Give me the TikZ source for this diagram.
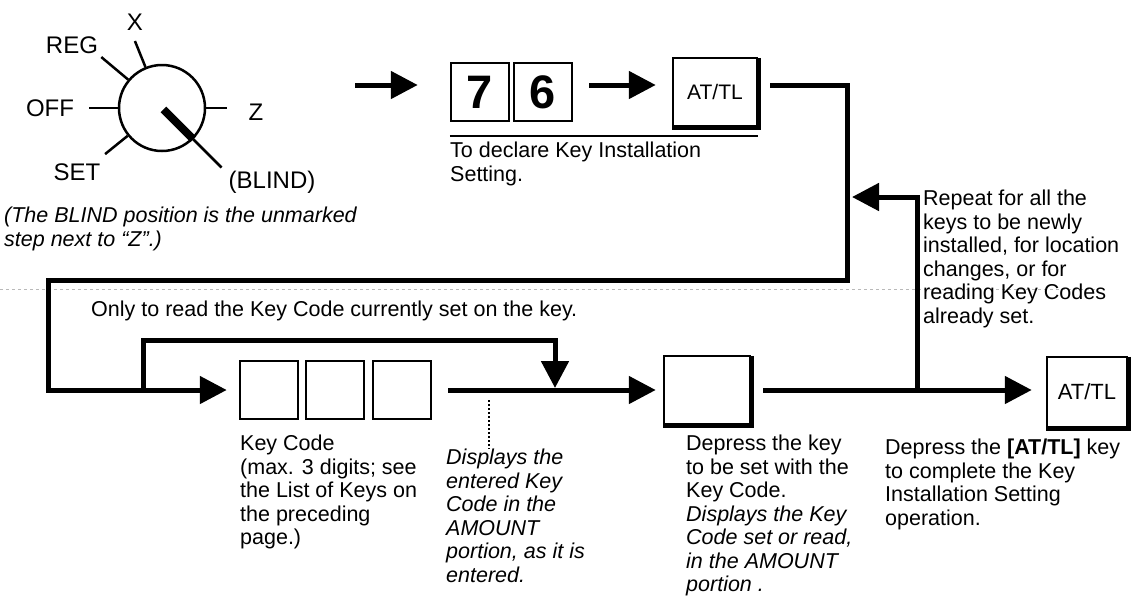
\documentclass[tikz,border=0pt]{standalone}
\usepackage{fontspec}
\setmainfont{Liberation Sans}
\usetikzlibrary{arrows.meta,calc}
\begin{document}
\begin{tikzpicture}[x=1pt,y=-1pt,
  flow/.style={line width=5pt,-{Triangle[length=27pt,width=27pt]}},
  tick/.style={line width=2.5pt},
  keybox/.style={draw,line width=2.5pt,minimum width=58pt,minimum height=58pt,inner sep=0pt},
  shbox/.style={draw,line width=2.5pt,inner sep=0pt},
  shadowline/.style={line width=4pt},
  txt/.style={align=left,anchor=north west,inner sep=0pt,font=\fontsize{21.5}{23.5}\selectfont},
  lbl/.style={inner sep=0pt,font=\fontsize{24}{28}\selectfont},
  artifact/.style={gray!55,dashed,line width=0.6pt}
]
\useasboundingbox (0,0) rectangle (1137,598);

% scan line
\draw[artifact] (0,289) -- (1095,289);

% rotary switch
\node[circle,draw,line width=2.5pt,minimum size=86pt,inner sep=0pt] (sw) at (162,108) {};
\draw[tick] (sw.112) -- ++(112:28pt);
\draw[tick] (sw.140) -- ++(140:35pt);
\draw[tick] (sw.180) -- ++(180:29pt);
\draw[tick] (sw.219) -- ++(219:29pt);
\draw[tick] (sw.0) -- ++(0:21pt);
\draw[tick] (sw.-45) -- ++(-45:40pt);
\draw[line width=8pt] ([shift={(-45:2pt)}]sw.center) -- (sw.-45);
\node[lbl] (lx) at (135,22) {X};
\node[lbl] (lreg) at (72,45) {REG};
\node[lbl] (loff) at (50,108) {OFF};
\node[lbl] (lz) at (256,112) {Z};
\node[lbl] (lset) at (77,172) {SET};
\node[lbl] (lblind) at (272,182) {(BLIND)};
\node[txt,font=\fontsize{21.5}{23.5}\selectfont\itshape] (note) at (4,207)
  {(The BLIND position is the unmarked\\step next to “Z”.)};

% top row
\node[keybox,font=\fontsize{47}{47}\selectfont\bfseries] (k7) at (480,92) {7};
\node[keybox,font=\fontsize{47}{47}\selectfont\bfseries] (k6) at (543,92) {6};
\node[shbox,minimum width=84pt,minimum height=68pt,font=\fontsize{21}{22}\selectfont] (at1) at (715,92) {AT/TL};
\draw[shadowline] ([xshift=1pt,yshift=-1pt]at1.north east) -- ([xshift=1pt,yshift=-1pt]at1.south east) -- ([yshift=-1pt]at1.south west);
\coordinate (in0) at (355,85);
\draw[flow] (in0) -- ([xshift=-32pt]k7.west |- in0);
\draw[flow] ([xshift=16pt]k6.east |- in0) -- ([xshift=-16pt]at1.west |- in0);
\draw[line width=2pt] ([yshift=-14pt]k7.south west) -- ([yshift=-14pt]k7.south west -| at1.east);
\node[txt] (declare) at (450,142) {To declare Key Installation\\Setting.};

% return loop
\coordinate (c1) at (847,85);
\coordinate (c2) at (847,280);
\coordinate (c3) at (48,280);
\coordinate (c4) at (48,390);
\node[keybox] (kc1) at (269,390) {};
\node[keybox] (kc2) at (335,390) {};
\node[keybox] (kc3) at (402,390) {};
\draw[flow] ([xshift=12pt]at1.east |- c1) -- (c1) -- (c2) -- (c3) -- (c4) -- ([xshift=-12pt]kc1.west);

% read-only loop
\node[anchor=west,inner sep=0pt,font=\fontsize{21.5}{23.5}\selectfont] (only) at (91,311)
  {Only to read the Key Code currently set on the key.};
\coordinate (i1) at (143,390);
\coordinate (i2) at (143,340);
\coordinate (i3) at (555,340);
\coordinate (i4) at (555,388);
\draw[flow] (i1) -- (i2) -- (i3) -- (i4);

% key to be set
\node[shbox,minimum width=86pt,minimum height=68pt] (kb) at (707,390) {};
\draw[shadowline] ([xshift=1pt,yshift=-1pt]kb.north east) -- ([xshift=1pt,yshift=-1pt]kb.south east) -- ([yshift=-1pt]kb.south west);
\draw[flow] ([xshift=16pt]kc3.east) -- ([xshift=-7pt]kb.west);

% AT/TL final
\node[shbox,minimum width=80pt,minimum height=70pt,font=\fontsize{22}{24}\selectfont] (at2) at (1087,392) {AT/TL};
\draw[shadowline] ([xshift=1pt,yshift=-1pt]at2.north east) -- ([xshift=1pt,yshift=-1pt]at2.south east) -- ([yshift=-1pt]at2.south west);
\draw[flow] ([xshift=12pt]kb.east) -- ([xshift=-14pt]at2.west |- kb.east);

% repeat loop
\coordinate (j) at (917,390);
\coordinate (r1) at (917,197);
\draw[flow] (j) -- (r1) -- ([xshift=5pt]c1 |- r1);
\node[txt] (rep) at (923,190) {Repeat for all the\\keys to be newly\\installed, for location\\changes, or for\\reading Key Codes\\already set.};

% bottom texts
\node[txt] (kct) at (240,435) {Key Code\\(max. 3 digits; see\\the List of Keys on\\the preceding\\page.)};
\node[txt,font=\fontsize{21.5}{23.5}\selectfont\itshape] (disp) at (446,449)
  {Displays the\\entered Key\\Code in the\\AMOUNT\\portion, as it is\\entered.};
\coordinate (dtop) at (489,400);
\draw[dotted,line width=2pt] (dtop) -- (disp.north -| dtop);
\node[txt] (dep) at (686,435) {Depress the key\\to be set with the\\Key Code.\\{\itshape Displays the Key}\\{\itshape Code set or read,}\\{\itshape in the AMOUNT}\\{\itshape portion .}};
\node[txt] (depat) at (885,439) {Depress the \textbf{[AT/TL]} key\\to complete the Key\\Installation Setting\\operation.};
\end{tikzpicture}
\end{document}
